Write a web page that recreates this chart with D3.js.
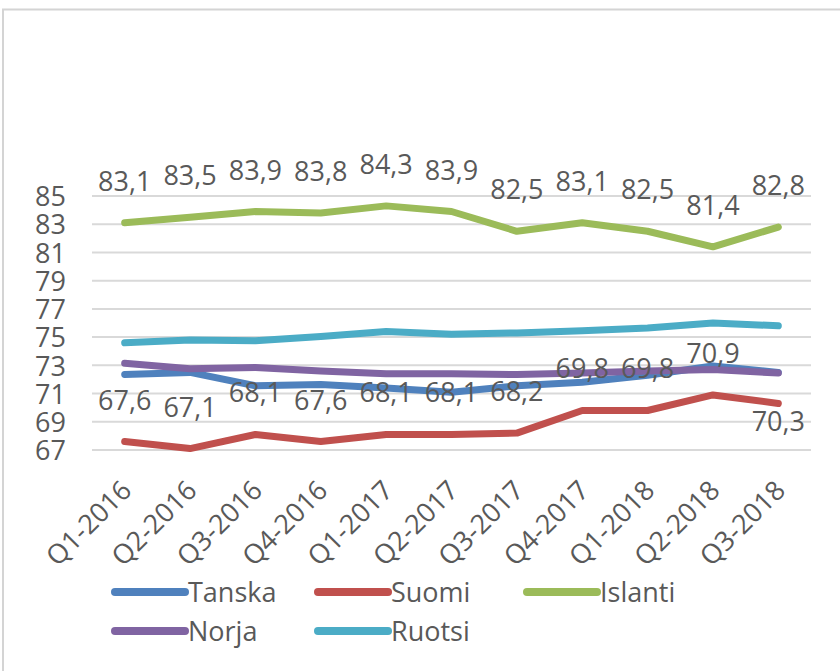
<!DOCTYPE html>
<html><head><meta charset="utf-8">
<script src="https://cdn.jsdelivr.net/npm/d3@7"></script>
<style>body{margin:0;background:#fff}svg{display:block}</style>
</head><body>
<svg id="c" width="840" height="671"></svg>
<script>
const categories = ["Q1-2016","Q2-2016","Q3-2016","Q4-2016","Q1-2017","Q2-2017","Q3-2017","Q4-2017","Q1-2018","Q2-2018","Q3-2018"];
const tanska  = [72.35,72.5,71.55,71.65,71.4,71.1,71.55,71.8,72.3,72.95,72.5];
const suomi   = [67.6,67.1,68.1,67.6,68.1,68.1,68.2,69.8,69.8,70.9,70.3];
const islanti = [83.1,83.5,83.9,83.8,84.3,83.9,82.5,83.1,82.5,81.4,82.8];
const norja   = [73.15,72.75,72.85,72.6,72.4,72.4,72.35,72.45,72.6,72.7,72.45];
const ruotsi  = [74.6,74.8,74.75,75.05,75.4,75.2,75.3,75.45,75.65,76.0,75.8];
const yTicks  = [67,69,71,73,75,77,79,81,83,85];
const seriesNames = ["Tanska","Suomi","Islanti","Norja","Ruotsi"];
const colors = ["#4F81BD","#C0504D","#9BBB59","#8064A2","#4BACC6"];

const series = [tanska, suomi, islanti, norja, ruotsi];
const svg = d3.select("#c");
const txt = "#595959";
const font = "'Open Sans', sans-serif";

// chart border (left & top visible)
svg.append("path").attr("d","M3,671 V9.5 H840").attr("fill","none").attr("stroke","#d4d4d4").attr("stroke-width",2);

const x = d3.scalePoint().domain(categories).range([92,811]).padding(0.5);
const y = d3.scaleLinear().domain([67,85]).range([450,196]);

// gridlines
svg.append("g").selectAll("line").data(yTicks).join("line")
  .attr("x1",92).attr("x2",811).attr("y1",d=>y(d)).attr("y2",d=>y(d))
  .attr("stroke","#d9d9d9").attr("stroke-width",2);

// y axis labels
const yAxis = svg.append("g").attr("transform","translate(74,0)")
  .call(d3.axisLeft(y).tickValues(yTicks).tickSize(0).tickPadding(8).tickFormat(d3.format("d")));
yAxis.select(".domain").remove();
yAxis.selectAll("text").attr("font-family",font).attr("font-size",27).attr("fill",txt).attr("dy","0.36em");

// x axis labels
const xAxis = svg.append("g").attr("transform","translate(0,455)")
  .call(d3.axisBottom(x).tickSize(0).tickPadding(0));
xAxis.select(".domain").remove();
xAxis.selectAll("text").attr("font-family",font).attr("font-size",27).attr("fill",txt)
  .attr("text-anchor","end").attr("dy",0)
  .attr("transform","translate(8,37) rotate(-45)");

// lines
const line = d3.line().x((d,i)=>x(categories[i])).y(d=>y(d));
svg.append("g").selectAll("path").data(series).join("path")
  .attr("d",d=>line(d)).attr("fill","none")
  .attr("stroke",(d,i)=>colors[i]).attr("stroke-width",7)
  .attr("stroke-linecap","round").attr("stroke-linejoin","round");

// data labels
function labels(vals, belowLast){
  svg.append("g").selectAll("text").data(vals).join("text")
    .attr("x",(d,i)=>x(categories[i]))
    .attr("y",(d,i)=> (belowLast && i===vals.length-1) ? y(d)+28 : y(d)-32)
    .attr("text-anchor","middle").attr("font-family",font).attr("font-size",27).attr("fill",txt)
    .text(d=>d.toFixed(1).replace(".",","));
}
labels(islanti,false);
labels(suomi,true);

// legend
const legendPos = [[115,592],[318,592],[527,592],[115,631],[318,631]];
const lg = svg.append("g").selectAll("g").data(seriesNames).join("g")
  .attr("transform",(d,i)=>`translate(${legendPos[i][0]},${legendPos[i][1]})`);
lg.append("line").attr("x1",0).attr("x2",70).attr("y1",0).attr("y2",0)
  .attr("stroke",(d,i)=>colors[i]).attr("stroke-width",8).attr("stroke-linecap","round");
lg.append("text").attr("x",73).attr("y",0).attr("dy","0.36em")
  .attr("font-family","'Liberation Sans Narrow','Open Sans',sans-serif").attr("font-size",27).attr("fill",txt)
  .text(d=>d);
</script>
</body></html>
